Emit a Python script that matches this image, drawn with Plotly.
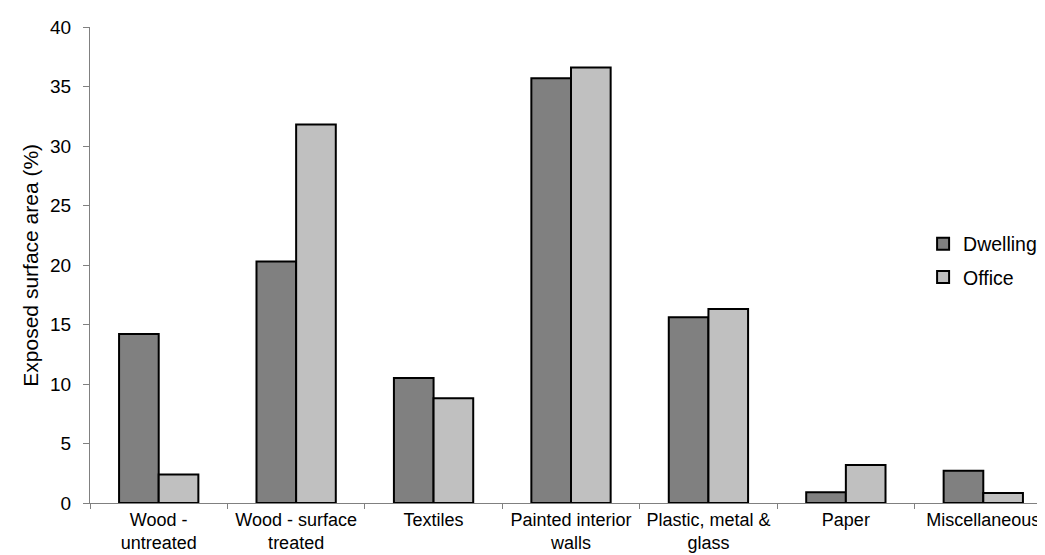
import plotly.graph_objects as go

categories = ["Wood -<br>untreated", "Wood - surface<br>treated", "Textiles",
              "Painted interior<br>walls", "Plastic, metal &<br>glass", "Paper", "Miscellaneous"]
dwelling = [14.2, 20.3, 10.5, 35.7, 15.6, 0.9, 2.7]
office = [2.4, 31.8, 8.8, 36.6, 16.3, 3.2, 0.85]
y_ticks = [0, 5, 10, 15, 20, 25, 30, 35, 40]
y_title = "Exposed surface area (%)"

FONT = "Liberation Sans, Arial, sans-serif"

fig = go.Figure()
fig.add_trace(go.Bar(x=categories, y=dwelling, name="Dwelling", legendgroup="d",
                     marker=dict(color="#808080", line=dict(color="black", width=2))))
fig.add_trace(go.Bar(x=categories, y=office, name="Office", legendgroup="o",
                     marker=dict(color="#C0C0C0", line=dict(color="black", width=2))))

fig.update_layout(
    width=1045, height=555,
    margin=dict(l=82, r=1, t=19, b=60),
    paper_bgcolor="white", plot_bgcolor="white",
    font=dict(family=FONT, size=18, color="black"),
    barmode="group", bargap=0.423, bargroupgap=0,
    showlegend=True,
    legend=dict(x=0.866, y=0.585, xanchor="left", yanchor="top",
                bgcolor="rgba(0,0,0,0)", font=dict(size=19.5),
                traceorder="grouped", tracegroupgap=5),
    xaxis=dict(showline=True, linecolor="#808080", linewidth=1,
               ticks="outside", tickson="boundaries", ticklen=5, tickcolor="#808080",
               showgrid=False, zeroline=False, tickfont=dict(size=18),
               ticklabelstandoff=0),
    yaxis=dict(range=[0, 40], tickvals=y_ticks, showline=True, linecolor="#808080",
               linewidth=1, ticks="outside", ticklen=6, tickcolor="#808080",
               showgrid=False, zeroline=False, tickfont=dict(size=19),
               ticklabelstandoff=8),
    annotations=[dict(text=y_title, xref="paper", yref="paper", x=-0.0627, y=0.5,
                      xanchor="center", yanchor="middle", textangle=-90,
                      showarrow=False, font=dict(size=21))],
)

fig.write_html("out.html")
